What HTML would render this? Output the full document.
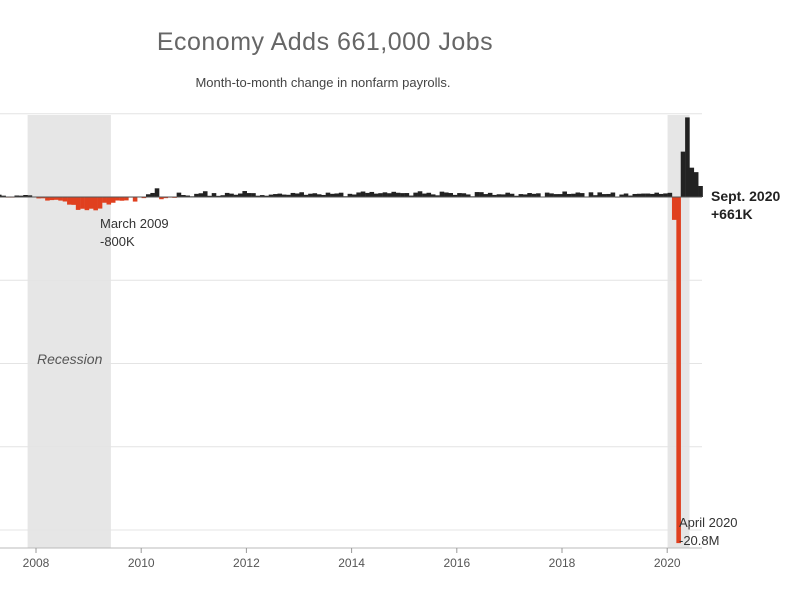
<!DOCTYPE html>
<html><head><meta charset="utf-8"><style>
body{margin:0;background:#fff;width:800px;height:600px;overflow:hidden;font-family:"Liberation Sans",sans-serif}
</style></head><body>
<svg width="800" height="600" xmlns="http://www.w3.org/2000/svg">
<text x="325" y="50" text-anchor="middle" font-size="25" fill="#666" letter-spacing="0.5">Economy Adds 661,000 Jobs</text>
<text x="323" y="87" text-anchor="middle" font-size="13" fill="#444">Month-to-month change in nonfarm payrolls.</text>
<g id="plot"></g>
</svg>
<script>
const startYear = 2007;
const values = [
240,90,190,80,140,80,-30,-20,90,80,120,100,
17,-85,-79,-215,-186,-169,-216,-270,-459,-472,-775,-705,
-791,-703,-800,-695,-345,-452,-346,-211,-225,-204,-2,-275,
23,-68,164,243,522,-133,-70,-34,-52,262,119,87,
43,189,225,346,73,235,70,107,246,202,134,209,
358,237,233,78,115,76,143,177,203,146,132,244,
211,286,130,197,226,162,122,261,190,212,258,47,
190,151,272,329,246,304,202,230,280,227,312,255,
234,238,86,262,344,206,254,157,100,321,272,239,
126,237,225,153,43,297,291,176,249,124,164,155,
259,195,73,175,155,239,190,221,18,264,216,175,
176,330,182,196,270,235,19,282,108,277,176,182,
269,1,147,210,85,182,194,207,208,185,261,184,
214,251,-1373,-20787,2725,4781,1761,1493,661];
const gridValues = [5000,0,-5000,-10000,-15000,-20000];
const tickYears = [2008,2010,2012,2014,2016,2018,2020];
const recessions = [[2007+11/12, 2009+6/12],[2020+1/12, 2020+6/12]];

const NS='http://www.w3.org/2000/svg';
const g=document.getElementById('plot');
const x=t=>36+(t-2008)*52.6;
const xb=t=>x(t)-4;
const y=v=>197-v*0.01665;
function mk(tag,attrs){const e=document.createElementNS(NS,tag);for(const k in attrs)e.setAttribute(k,attrs[k]);g.appendChild(e);return e;}

recessions.forEach((r,i)=>{
  const e=mk('rect',{x:xb(r[0]),y:115,width:xb(r[1])-xb(r[0]),height:433,fill:'#e6e6e6'});
  
  
});
gridValues.forEach(v=>{
  if(v===0)return;
  const e=mk('line',{x1:0,x2:702,y1:y(v),y2:y(v),stroke:'#e4e4e4','stroke-width':1});
  
  
});
values.forEach((v,i)=>{
  const t=startYear+i/12;
  const x0=xb(t),w=xb(t+1/12)-x0;
  const e=mk('rect',{x:x0,y:Math.min(y(0),y(v)),width:w+0.2,height:Math.max(0.6,Math.abs(y(v)-y(0))),fill:v>=0?'#222':'#e0401f'});
  
  
});
let e=mk('line',{x1:0,x2:702,y1:y(0),y2:y(0),stroke:'#555','stroke-width':1});


e=mk('line',{x1:0,x2:702,y1:548,y2:548,stroke:'#bbb','stroke-width':1});


tickYears.forEach(yr=>{
  const t=mk('line',{x1:x(yr),x2:x(yr),y1:548,y2:553,stroke:'#999'});
  
  
  const l=mk('text',{x:x(yr),y:567,'text-anchor':'middle','font-size':12,fill:'#555'});
  l.textContent=yr;
  
  
});
function label(txt,xx,yy,attrs,name){const l=mk('text',Object.assign({x:xx,y:yy,'font-size':13,fill:'#333'},attrs||{}));l.textContent=txt;}
label('March 2009',100,228,{},'annotation-march-2009');
label('-800K',100,246,{},'annotation-march-2009-value');
label('Sept. 2020',711,201,{'font-weight':'bold','font-size':14,fill:'#222'},'annotation-sept-2020');
label('+661K',711,219,{'font-weight':'bold','font-size':14,fill:'#222'},'annotation-sept-2020-value');
label('April 2020',679,527,{},'annotation-april-2020');
label('-20.8M',679,545,{},'annotation-april-2020-value');
label('Recession',37,364,{'font-style':'italic','font-size':14,fill:'#555'},'recession-label');
</script>
</body></html>
